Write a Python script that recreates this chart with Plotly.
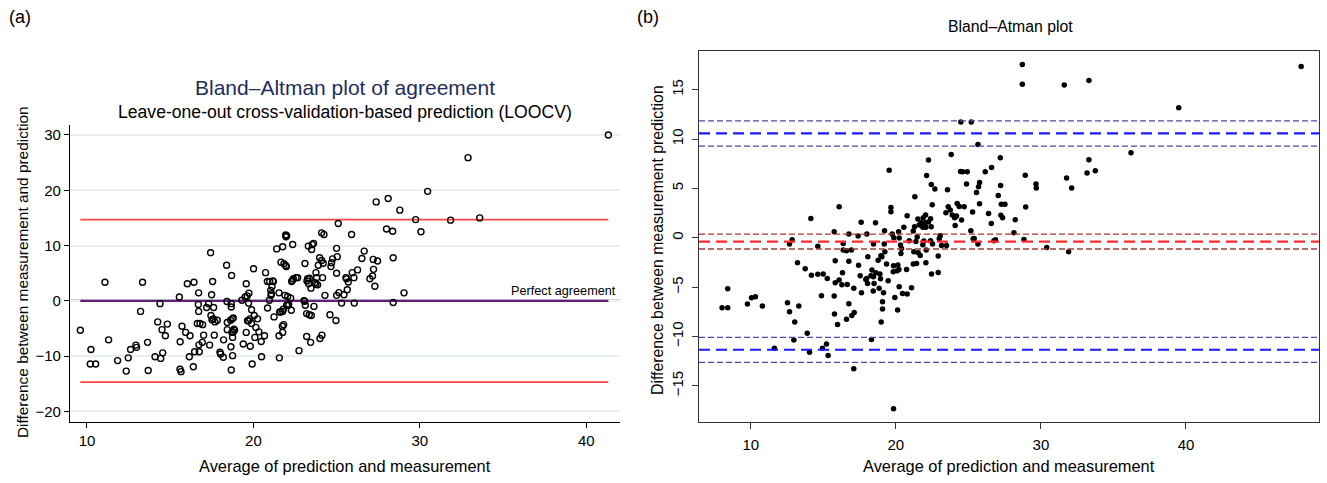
import plotly.graph_objects as go

# ---------------- Panel (a): LOOCV Bland-Altman ----------------
a_avg = [9.60, 10.24, 10.20, 10.52, 11.08, 11.30, 11.84, 12.36, 12.48, 12.62, 12.94, 12.98, 13.22, 13.34,
         13.64, 13.68, 14.09, 14.39, 14.43, 14.25, 14.55, 14.51, 14.71, 14.83, 15.55, 15.59, 15.65, 15.60,
         15.71, 15.93, 16.03, 16.19, 16.15, 16.39, 16.43, 16.47, 16.71, 16.73, 16.75, 16.69, 16.71, 16.63,
         16.79, 16.93, 17.01, 16.95, 17.19, 17.31, 17.37, 17.43, 17.49, 17.55, 17.45, 17.51, 17.59, 17.61,
         17.65, 17.69, 17.83, 17.99, 18.03, 18.19, 18.21, 18.39, 18.41, 18.43, 18.43, 18.63, 18.67, 18.67,
         18.69, 18.65, 18.71, 18.75, 18.79, 18.83, 18.87, 18.73, 18.79, 18.75, 18.67, 19.31, 19.39, 19.51,
         19.63, 19.73, 19.57, 19.57, 19.65, 19.71, 19.79, 19.89, 19.71, 19.81, 19.89, 19.93, 20.01, 20.05,
         20.09, 20.15, 20.25, 20.33, 20.47, 20.49, 20.67, 20.73, 20.85, 20.84, 20.98, 20.96, 21.04, 21.06,
         21.08, 21.12, 21.16, 21.20, 21.24, 21.40, 21.54, 21.54, 21.56, 21.58, 21.64, 21.76, 21.80, 21.66,
         21.74, 21.76, 21.82, 21.76, 21.84, 21.94, 21.98, 21.94, 22.00, 21.96, 21.90, 22.00, 22.08, 22.12,
         22.06, 22.30, 22.34, 22.40, 22.24, 22.28, 22.36, 22.56, 22.66, 22.74, 23.04, 23.08, 23.12, 23.10,
         23.20, 23.20, 23.36, 23.48, 23.44, 23.26, 23.22, 23.32, 23.36, 23.30, 23.54, 23.50, 23.62, 23.46,
         23.70, 23.76, 23.76, 23.86, 23.80, 23.90, 23.98, 24.10, 24.20, 24.16, 23.64, 24.00, 24.12, 24.10,
         24.24, 24.30, 24.60, 24.96, 25.00, 25.14, 25.30, 25.44, 25.00, 25.04, 25.00, 25.10, 24.70, 24.66,
         24.76, 25.56, 25.64, 25.70, 25.60, 25.90, 25.94, 26.04, 26.06, 26.26, 26.52, 26.66, 27.00, 27.16,
         27.22, 27.30, 27.20, 27.46, 27.38, 28.00, 28.37, 28.10, 28.40, 28.40, 28.80, 29.05, 29.75, 30.07,
         30.47, 31.85, 32.90, 33.60, 41.33]
a_diff = [-5.3, -8.8, -11.4, -11.4, 3.37, -7.05, -10.8, -12.7, -10.3, -8.8, -8.0, -8.4, -1.9, 3.37,
          -7.5, -12.6, -10.1, -0.5, -10.4, -3.8, -9.4, -5.2, -6.3, -4.2, 0.7, -12.35, -12.8, -7.4,
          -4.6, -5.7, 3.1, -6.3, -10.1, -11.9, 3.37, -9.2, 1.45, -7.95, -9.2, -0.66, -1.9, -4.1,
          -4.1, -7.5, -6.2, -4.3, -1.2, -0.5, -8.0, 8.7, 1.1, 3.5, -2.65, -3.4, -3.25, -1.2,
          -6.2, -3.8, -3.5, -9.3, -9.6, -10.2, -7.05, 6.45, -0.1, -3.9, -5.2, -3.5, -0.5, -1.1,
          4.6, -8.3, -5.7, -6.6, -5.6, -5.1, -5.3, -3.25, -3.1, -9.9, -12.5, 0.1, -7.8, 0.7,
          0.9, 1.4, 3.1, -5.7, -3.6, -3.6, -3.25, -1.6, -0.4, -8.2, -4.1, -11.4, 5.8, -2.65,
          -6.6, -4.8, -3.25, -5.6, -7.35, -10.1, -6.3, 5.1, -1.3, 3.5, 3.5, 0.1, 1.9, 1.0,
          1.3, 2.6, 3.6, 3.5, -2.9, 9.4, 1.45, -6.3, -10.3, -2.0, -2.0, -1.9, -1.5, 7.0,
          -4.6, -5.7, -4.3, 9.8, 6.7, 6.4, 6.2, 11.9, 11.8, 11.6, 1.0, -0.8, -0.8, -0.6,
          0.8, 3.5, 3.7, 4.0, 0.5, -1.7, 10.2, 4.2, 4.2, -9.0, 0.05, -0.06, -0.8, 6.75,
          -2.3, -6.45, -2.5, -2.65, -7.5, 4.0, 3.6, 3.1, 4.1, 9.9, 10.2, 9.3, 10.4, 2.3,
          3.3, 5.1, 3.0, 2.9, 4.2, 6.45, 7.8, 7.3, 6.8, 4.2, -1.0, -6.8, -6.2, 12.3,
          12.0, 1.0, -2.5, -3.55, 1.0, 1.5, -0.4, 1.1, 5.0, 8.0, 9.5, 14.0, 6.9, 6.2,
          7.6, 4.2, 2.0, 3.4, 4.0, 12.0, 5.1, 4.2, -0.4, 5.6, 7.65, 9.0, 4.0, 4.5,
          5.7, 2.65, 7.5, 7.2, 17.9, 13.0, 12.6, 18.5, 7.8, -0.3, 16.4, 1.45, 14.7, 12.5,
          19.8, 14.6, 25.9, 15.0, 30.0]
a_loa_upper = 14.7
a_loa_lower = -14.7
a_perfect = 0.0
a_xticks = [10, 20, 30, 40]
a_yticks = [-20, -10, 0, 10, 20, 30]

# ---------------- Panel (b): Bland-Atman plot ----------------
b_avg = [8.02, 8.41, 8.41, 9.77, 10.05, 10.32, 10.80, 11.63, 12.53, 12.67, 13.31, 13.03, 12.67, 12.85,
         13.22, 13.75, 13.89, 14.14, 14.18, 14.62, 14.62, 12.97, 14.05,
         19.54, 16.09, 19.66, 19.66, 20.78, 17.61, 18.60, 15.75, 16.76, 17.40, 18.00, 19.22, 19.75, 20.19,
         20.55, 16.37, 16.37, 16.60, 16.94, 18.46, 19.20, 19.86, 20.23, 20.32, 20.92, 19.24, 20.35, 20.39,
         15.82, 16.76, 17.43, 18.07, 18.78, 19.04, 18.97, 19.36, 19.84, 20.14, 20.09, 19.82, 20.21, 20.74,
         18.35, 18.62, 18.90, 18.28, 18.46, 17.98, 17.54, 14.99, 15.27, 15.82, 16.09, 16.32, 16.28, 16.65,
         17.10, 17.63, 18.05, 17.93, 18.50, 18.44, 18.94, 18.85, 19.15, 19.47, 19.93, 20.23, 20.46, 20.78,
         14.87, 15.75, 16.76, 19.08, 19.08, 20.12, 15.77, 15.98, 16.60, 16.97, 17.13, 18.99, 18.32, 14.94,
         15.22, 15.33, 17.10, 19.84,
         24.48, 25.20, 25.66, 23.82, 22.25, 22.12, 24.46, 24.60, 24.92, 26.60, 26.16, 27.20, 22.44, 22.69,
         21.31, 23.56, 24.87, 25.77, 25.70, 25.56, 27.22, 27.06, 27.27, 27.52, 27.24, 27.36, 22.51, 25.29,
         25.77, 24.23, 24.37, 24.71, 23.61, 23.75, 23.45, 23.89, 24.05, 24.09, 24.53, 24.18, 26.39, 26.58,
         21.29, 21.20, 21.61, 21.89, 22.05, 22.02, 22.07, 22.25, 22.39, 22.44, 21.52, 21.75, 21.86, 25.17,
         21.47, 21.38, 21.86, 21.93, 22.39, 22.53, 23.06, 22.99, 23.15, 23.49, 25.33, 25.40, 25.66, 26.87,
         26.76, 21.24, 22.09, 21.54, 21.68, 21.20, 21.43, 22.07, 22.92, 22.46, 22.92, 21.08,
         28.72, 28.72, 31.61, 33.31, 47.94, 39.50, 36.21, 33.31, 33.18, 33.75, 31.77, 32.12, 31.91, 30.40,
         28.92, 28.95, 28.83, 29.66, 29.68, 28.23, 28.14]
b_diff = [-7.09, -7.09, -5.16, -6.72, -6.08, -5.97, -6.92, -11.21, -6.58, -7.50, -6.92, -8.54, -0.64, -0.20,
          -2.53, -3.14, -9.69, 1.96, -3.81, -3.71, -0.87, -10.36, -11.60,
          6.85, 3.14, 3.07, 2.63, 2.23, 1.58, 1.52, 0.61, 0.37, 0.17, 0.37, 0.71, 0.37, 0.61,
          1.05, -0.58, -1.25, -1.32, -1.25, -0.64, -0.64, 0.00, -0.03, -0.74, -0.30, -1.42, -1.59, -1.08,
          -2.33, -2.37, -2.80, -1.93, -2.27, -1.93, -1.82, -2.67, -2.84, -2.77, -3.34, -3.45, -3.21, -3.21,
          -3.28, -3.55, -3.68, -3.85, -3.95, -4.12, -3.85, -3.68, -4.12, -4.56, -4.29, -3.55, -4.76, -4.73,
          -5.13, -5.57, -4.63, -4.22, -4.63, -5.40, -4.15, -5.13, -5.57, -4.36, -6.05, -4.97, -5.64, -5.71,
          -5.88, -5.91, -6.69, -6.49, -7.23, -7.33, -7.73, -8.78, -8.27, -7.87, -7.57, -8.54, -10.30, -11.20,
          -10.77, -11.92, -13.27, -17.33,
          11.72, 11.72, 9.45, 8.44, 7.87, 6.31, 6.72, 6.69, 6.69, 7.12, 6.69, 8.10, 5.40, 4.93,
          4.15, 4.86, 5.44, 5.60, 5.17, 4.59, 5.30, 4.29, 3.38, 3.38, 2.29, 2.03, 3.34, 2.60,
          3.44, 3.48, 3.17, 3.14, 3.14, 2.80, 2.53, 2.30, 2.03, 1.25, 1.79, 2.19, 2.46, 1.45,
          1.11, 0.67, 1.28, 2.03, 2.30, 1.52, 1.05, 1.59, 1.92, 1.11, 1.89, 1.52, 1.05, 0.71,
          0.07, -0.37, -0.71, -0.34, -0.30, -0.64, 0.20, -0.10, -0.78, -0.78, -0.10, -0.07, -0.64, -0.20,
          -0.30, -1.42, -1.25, -1.52, -1.79, -2.67, -2.60, -2.53, -1.86, -3.68, -3.51, -5.07,
          17.56, 15.54, 15.47, 15.94, 17.36, 13.17, 8.62, 7.90, 6.55, 6.79, 6.05, 5.04, -1.42, -0.98,
          6.32, 3.11, -0.17, 5.44, 5.04, 1.83, 0.51]
b_mean = -0.40
b_mean_ci = [0.36, -1.14]
b_loa_upper = 10.57
b_loa_upper_ci = [11.85, 9.29]
b_loa_lower = -11.35
b_loa_lower_ci = [-10.10, -12.63]
b_xticks = [10, 20, 30, 40]
b_yticks = [-15, -10, -5, 0, 5, 10, 15]

FONT = "Liberation Sans, Arial, sans-serif"
W, H = 1327, 483

fig = go.Figure()

# ----- panel (a) lines -----
xmin, xmax = min(a_avg), max(a_avg)
fig.add_shape(type="line", xref="x domain", yref="y", x0=0, x1=1, y0=a_perfect, y1=a_perfect,
              line=dict(color="#2e6f6a", width=2.2), layer="below")
for yv in (a_loa_upper, a_loa_lower):
    fig.add_trace(go.Scatter(x=[xmin, xmax], y=[yv, yv], mode="lines",
                             line=dict(color="#ff4444", width=1.8), xaxis="x", yaxis="y",
                             showlegend=False, hoverinfo="skip"))
fig.add_trace(go.Scatter(x=[xmin, xmax], y=[a_perfect, a_perfect], mode="lines",
                         line=dict(color="#641e7a", width=2.2), xaxis="x", yaxis="y",
                         showlegend=False, hoverinfo="skip"))
fig.add_trace(go.Scatter(x=a_avg, y=a_diff, mode="markers",
                         marker=dict(symbol="circle-open", size=6, color="black", line=dict(width=1.4)),
                         xaxis="x", yaxis="y", showlegend=False))

# ----- panel (b) -----
fig.add_trace(go.Scatter(x=b_avg, y=b_diff, mode="markers",
                         marker=dict(symbol="circle", size=5.5, color="black"),
                         xaxis="x2", yaxis="y2", showlegend=False))

def hline(y, color, width, dash):
    fig.add_shape(type="line", xref="x2 domain", yref="y2", x0=0, x1=1, y0=y, y1=y,
                  line=dict(color=color, width=width, dash=dash))

for yv in b_loa_upper_ci + b_loa_lower_ci:
    hline(yv, "#4b4ba8", 1.3, "6px,3px")
for yv in b_mean_ci:
    hline(yv, "#a23a3a", 1.3, "6px,3px")
hline(b_loa_upper, "#1a1aff", 2.2, "11px,6px")
hline(b_loa_lower, "#1a1aff", 2.2, "11px,6px")
hline(b_mean, "#ff2a2a", 2.2, "11px,6px")

def px(xp):
    return xp / W

def py(yp):
    return (H - yp) / H

axfont = dict(family=FONT, size=15, color="black")

fig.update_layout(
    width=W, height=H, margin=dict(l=0, r=0, t=0, b=0),
    paper_bgcolor="white", plot_bgcolor="white",
    font=dict(family=FONT, color="black"),
    xaxis=dict(domain=[px(70), px(620)], range=[8.98, 42.03], anchor="y",
               tickvals=a_xticks, ticks="outside", ticklen=5, tickcolor="black", tickwidth=1.2,
               showline=True, linecolor="black", linewidth=1.3, showgrid=False, zeroline=False,
               tickfont=axfont),
    yaxis=dict(domain=[py(422), py(125)], range=[-21.9, 31.8], anchor="x",
               tickvals=a_yticks, ticks="outside", ticklen=5, tickcolor="black", tickwidth=1.2,
               showline=True, linecolor="black", linewidth=1.3, showgrid=True,
               gridcolor="#e8eff2", gridwidth=1.5, zeroline=False, tickfont=axfont),
    xaxis2=dict(domain=[px(699), px(1319)], range=[6.43, 49.17], anchor="y2",
                tickvals=b_xticks, ticks="outside", ticklen=6, tickcolor="#333", tickwidth=1,
                showline=True, mirror=True, linecolor="#333", linewidth=1, showgrid=False,
                zeroline=False, tickfont=axfont, ticklabelstandoff=3),
    yaxis2=dict(domain=[py(422.3), py(50.7)], range=[-18.70, 18.95], anchor="x2",
                tickvals=b_yticks, ticks="outside", ticklen=6, tickcolor="#333", tickwidth=1,
                showline=True, mirror=True, linecolor="#333", linewidth=1, showgrid=False,
                zeroline=False, tickfont=axfont, tickangle=-90, ticklabelstandoff=3),
)

ann = [
    dict(text="(a)", x=px(20), y=py(17), size=18, color="black"),
    dict(text="(b)", x=px(648), y=py(17), size=18, color="black"),
    dict(text="Bland–Altman plot of agreement", x=px(345), y=py(87), size=21, color="#1f2d5c"),
    dict(text="Leave-one-out cross-validation-based prediction (LOOCV)", x=px(345), y=py(112), size=17.6, color="black"),
    dict(text="Average of prediction and measurement", x=px(345), y=py(466), size=16.4, color="black"),
    dict(text="Difference between measurement and prediction", x=px(22), y=py(272), size=15.4,
         color="black", angle=-90),
    dict(text="Bland–Atman plot", x=px(1010), y=py(27), size=15.8, color="black"),
    dict(text="Average of prediction and measurement", x=px(1009), y=py(466), size=16.4, color="black"),
    dict(text="Difference between measurement prediction", x=px(657), y=py(240), size=15.8,
         color="black", angle=-90),
]
for a in ann:
    fig.add_annotation(text=a["text"], x=a["x"], y=a["y"], xref="paper", yref="paper",
                       xanchor="center", yanchor="middle", showarrow=False,
                       textangle=a.get("angle", 0),
                       font=dict(family=FONT, size=a["size"], color=a["color"]))

fig.add_annotation(text="Perfect agreement", x=px(618), y=a_perfect, xref="paper", yref="y",
                   xanchor="right", yanchor="bottom", yshift=1, showarrow=False,
                   font=dict(family=FONT, size=12.7, color="black"))

fig.write_html("out.html")
